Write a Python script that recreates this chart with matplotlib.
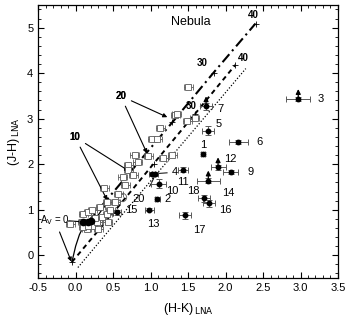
import numpy as np
import matplotlib
matplotlib.use("Agg")
import matplotlib.pyplot as plt
from matplotlib.ticker import MultipleLocator

plt.rcParams['font.family'] = ['Liberation Sans', 'DejaVu Sans']

# field stars (open squares), H-K and J-H
field_hk = [1.33, 1.13, 1.02, 1.09, 0.79, 0.97, 1.17, 1.29, 0.70, 0.83, 1.50, 1.35,
            1.49, 1.59, 0.38, 0.70, 0.77, 0.63, 0.66, 0.57, 0.53, 0.42, 0.33, -0.07,
            0.10, 0.17, 0.22, 0.09, 0.22, 0.29, 0.30, 0.35, 0.42, 0.43, 0.46, 0.15,
            0.10, 0.26, 0.17]
field_jh = [3.09, 2.80, 2.56, 2.56, 2.21, 2.17, 2.14, 2.21, 1.99, 2.04, 3.70, 3.11,
            2.95, 3.02, 1.47, 1.88, 1.77, 1.71, 1.55, 1.34, 1.18, 1.18, 1.05, 0.68,
            0.90, 0.94, 1.00, 0.74, 0.64, 0.72, 0.57, 0.83, 0.90, 0.72, 1.00, 0.57,
            0.61, 0.81, 0.64]

# numbered nebula sources
src_id = ['1', '2', '3', '4', '5', '6', '7', '9', '10', '11', '12', '13', '14',
          '15', '16', '17', '18', '20']
src_hk = [1.70, 1.09, 2.97, 1.02, 1.77, 2.17, 1.74, 2.07, 1.11, 1.43, 1.90, 0.98,
          1.77, 0.55, 1.78, 1.46, 1.71, 1.06]
src_jh = [2.23, 1.23, 3.43, 1.79, 2.74, 2.49, 3.27, 1.83, 1.57, 1.88, 1.93, 1.00,
          1.64, 0.94, 1.14, 0.88, 1.25, 1.78]
src_hk_err = [0.03, 0.03, 0.16, 0.04, 0.08, 0.13, 0.08, 0.10, 0.10, 0.07, 0.10,
              0.06, 0.15, 0.05, 0.08, 0.08, 0.08, 0.04]
src_jh_err = [0.04, 0.04, 0.05, 0.04, 0.10, 0.05, 0.07, 0.05, 0.10, 0.05, 0.05,
              0.03, 0.05, 0.05, 0.08, 0.08, 0.08, 0.04]
src_limit = ['3', '7', '12', '14']
# label offsets in points and alignment
src_off = {'1': (0, 6, 'center'), '2': (5, 0, 'left'), '3': (14, 0, 'left'),
           '4': (14, 1, 'left'), '5': (5, 5, 'left'), '6': (13, 0, 'left'),
           '7': (8, -2, 'left'), '9': (12, 0, 'left'), '10': (5, -5, 'left'),
           '11': (0, -9, 'center'), '12': (4, 6, 'left'), '13': (3, -10, 'center'),
           '14': (10, -9, 'left'), '15': (6, 2, 'left'), '16': (7, -5, 'left'),
           '17': (6, -11, 'left'), '18': (-3, 5, 'right')}

# extra filled sources at the locus
blob_hk = [0.10, 0.17, 0.21]
blob_jh = [0.74, 0.72, 0.75]

# reddening vectors: A_V = 0, 10, 20, 30, 40
av_marks = [0, 10, 20, 30, 40]
dashdot_hk = [0.17, 0.73, 1.29, 1.84, 2.40]
dashdot_jh = [0.74, 1.83, 2.92, 4.01, 5.09]
dashed_hk = [-0.05, 0.50, 1.04, 1.59, 2.13]
dashed_jh = [-0.15, 0.93, 2.01, 3.10, 4.18]
dotted_hk = [0.03, 0.59, 1.15, 1.71, 2.27]
dotted_jh = [-0.27, 0.83, 1.92, 3.01, 4.10]

# intrinsic locus (solid)
locus_hk = [-0.05, 0.0, 0.05, 0.10, 0.17, 0.30, 0.42]
locus_jh = [-0.15, 0.20, 0.45, 0.62, 0.74, 0.88, 1.16]

fig = plt.figure(figsize=(3.47, 3.24), dpi=100)
ax = fig.add_axes([0.11, 0.142, 0.864, 0.843])

ax.plot(locus_hk, locus_jh, '-', color='k', lw=0.9)
ax.plot(dashdot_hk, dashdot_jh, color='k', lw=1.5, dashes=(5, 2, 1, 2))
ax.plot(dashed_hk, dashed_jh, color='k', lw=1.4, dashes=(2.5, 2))
ax.plot(dotted_hk, dotted_jh, color='k', lw=0.9, dashes=(1, 1.5))
for hk, jh in [(dashdot_hk, dashdot_jh), (dashed_hk, dashed_jh)]:
    ax.plot(hk, jh, '+', color='k', ms=5, mew=0.6)

ax.errorbar(field_hk, field_jh, xerr=0.06, yerr=0.03, fmt='s', mfc='white',
            mec='0.35', ms=3.8, mew=0.6, ecolor='0.35', elinewidth=0.6, capsize=2,
            capthick=0.6, zorder=3)
ax.plot([0.62], [1.29], 'o', mfc='none', mec='0.35', ms=6, mew=0.6, zorder=3)

ax.plot(blob_hk, blob_jh, 'o', color='k', ms=4.5, zorder=4)

for i, name in enumerate(src_id):
    ax.errorbar(src_hk[i], src_jh[i], xerr=src_hk_err[i], yerr=src_jh_err[i],
                fmt='o', color='k', ms=3.2, ecolor='0.35', elinewidth=0.7,
                capsize=2.5, capthick=0.7, zorder=5)
    if name in src_limit:
        ax.annotate('', xy=(src_hk[i], src_jh[i] + 0.22), xytext=(src_hk[i], src_jh[i]),
                    arrowprops=dict(arrowstyle='-|>', color='k', lw=0.9,
                                    mutation_scale=7, shrinkA=0, shrinkB=0), zorder=5)
    if name in src_off:
        dx, dy, ha = src_off[name]
        ax.annotate(name, (src_hk[i], src_jh[i]), xytext=(dx, dy),
                    textcoords='offset points', fontsize=8, ha=ha, va='center')

# leader lines
ax.plot([1.04, 1.22], [1.79, 1.81], color='k', lw=0.7)
ax.annotate('20', xy=(src_hk[-1], src_jh[-1]), xytext=(0.84, 1.24), fontsize=8,
            ha='center', va='center',
            arrowprops=dict(arrowstyle='-', color='k', lw=0.7, shrinkA=4, shrinkB=2,
                            connectionstyle='arc3,rad=0.15'))

# A_V labels
arrow = dict(arrowstyle='-|>', color='k', lw=0.8, mutation_scale=6, shrinkA=2, shrinkB=1)
ax.annotate('10', xy=(dashdot_hk[1], dashdot_jh[1]), xytext=(-0.01, 2.6), fontsize=7,
            fontweight='bold', ha='center', va='center', arrowprops=arrow)
ax.annotate('10', xy=(dashed_hk[1] - 0.07, dashed_jh[1] + 0.25), xytext=(-0.01, 2.6),
            fontsize=7, fontweight='bold', ha='center', va='center', arrowprops=arrow)
ax.annotate('20', xy=(dashdot_hk[2] - 0.05, dashdot_jh[2] + 0.1), xytext=(0.6, 3.5),
            fontsize=7, fontweight='bold', ha='center', va='center', arrowprops=arrow)
ax.annotate('20', xy=(dashed_hk[2] - 0.08, dashed_jh[2] + 0.2), xytext=(0.6, 3.5),
            fontsize=7, fontweight='bold', ha='center', va='center', arrowprops=arrow)
ax.text(dashdot_hk[3] - 0.08, dashdot_jh[3] + 0.1, '30', fontsize=7, fontweight='bold',
        ha='right', va='bottom')
ax.text(dashdot_hk[4] - 0.03, dashdot_jh[4] + 0.08, '40', fontsize=7, fontweight='bold',
        ha='center', va='bottom')
ax.text(dashed_hk[3] - 0.05, dashed_jh[3] + 0.06, '30', fontsize=7, fontweight='bold',
        ha='center', va='bottom')
ax.text(dashed_hk[4] + 0.03, dashed_jh[4] + 0.05, '40', fontsize=7, fontweight='bold',
        ha='left', va='bottom')

ax.annotate(r'A$_{\rm V}$ = 0', xy=(dashed_hk[0], dashed_jh[0] - 0.02), xytext=(-0.28, 0.78),
            fontsize=7, ha='center', va='center', arrowprops=arrow)
ax.annotate('', xy=(0.13, 0.73), xytext=(-0.13, 0.76), arrowprops=arrow)

ax.text(1.53, 5.12, 'Nebula', fontsize=9, ha='center', va='center')

ax.set_xlim(-0.5, 3.5)
ax.set_ylim(-0.5, 5.5)
ax.xaxis.set_major_locator(MultipleLocator(0.5))
ax.xaxis.set_minor_locator(MultipleLocator(0.1))
ax.yaxis.set_major_locator(MultipleLocator(1))
ax.yaxis.set_minor_locator(MultipleLocator(0.2))
ax.set_xticks(np.arange(-0.5, 3.51, 0.5))
ax.set_xticklabels(['%.1f' % v for v in np.arange(-0.5, 3.51, 0.5)])
ax.tick_params(which='both', direction='in', top=True, right=True, labelsize=8)
ax.tick_params(which='major', length=4, width=0.8)
ax.tick_params(which='minor', length=2.5, width=0.6)
for s in ax.spines.values():
    s.set_linewidth(0.9)

ax.set_xlabel(r'(H-K)$_{\,\rm LNA}$', fontsize=9, labelpad=6)
ax.set_ylabel(r'(J-H)$_{\,\rm LNA}$', fontsize=9, labelpad=4)

fig.savefig('out.png', dpi=100)
